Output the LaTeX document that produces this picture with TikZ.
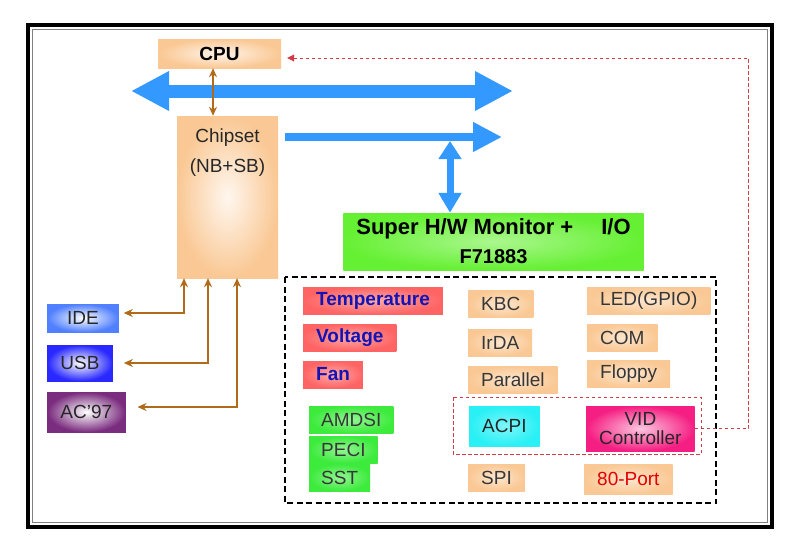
\documentclass[tikz,border=0pt]{standalone}
\usepackage{fontspec}
\setmainfont{Liberation Sans}
\usetikzlibrary{arrows.meta}
\definecolor{peach}{RGB}{250,200,148}
\definecolor{busblue}{RGB}{51,153,255}
\definecolor{wirebrown}{RGB}{176,106,26}
\definecolor{monigreen}{RGB}{102,240,51}
\definecolor{smgreen}{RGB}{60,235,60}
\definecolor{salmon}{RGB}{255,100,100}
\definecolor{hwtext}{RGB}{20,20,180}
\definecolor{idecol}{RGB}{80,128,255}
\definecolor{usbcol}{RGB}{40,40,255}
\definecolor{accol}{RGB}{122,44,126}
\definecolor{acpicol}{RGB}{40,240,245}
\definecolor{vidcol}{RGB}{245,30,130}
\definecolor{vidline}{RGB}{210,60,70}
\definecolor{labelgray}{RGB}{55,55,55}
\begin{document}
\begin{tikzpicture}[x=1pt, y=-1pt,
  every node/.style={font=\fontsize{19}{19}\selectfont},
  box/.style={rectangle, inner xsep=13pt, inner ysep=0pt, anchor=west, minimum height=27pt},
  iobox/.style={box, inner color=white!55!peach, outer color=peach, text=labelgray},
  hwbox/.style={box, inner color=white!45!salmon, outer color=salmon, text=hwtext, font=\fontsize{19}{19}\selectfont\bfseries},
  smbox/.style={box, inner xsep=12pt, inner color=white!45!smgreen, outer color=smgreen, text=labelgray},
  portbox/.style={box, draw=#1, line width=0.8pt, inner color=white, outer color=#1, text=black!85},
  bus/.style={busblue, line width=#1},
  wire/.style={wirebrown, line width=1.3pt, {Stealth[length=9pt,width=8pt]}-{Stealth[length=9pt,width=8pt]}},
  vidwire/.style={vidline, line width=1pt, dash pattern=on 3.5pt off 2.5pt}]
\useasboundingbox[fill=white] (0,0) rectangle (800,538);
\draw[line width=4pt] (28,25) rectangle (772,527);
\draw[gray, line width=1pt] (32.5,29.5) rectangle (767.5,522.5);
\node[box, anchor=center, minimum width=123pt, minimum height=29pt, inner color=white!80!peach, outer color=peach, font=\fontsize{19}{19}\selectfont\bfseries] (cpu) at (219.5,53.5) {CPU};
\node[box, anchor=center, minimum width=101pt, minimum height=162pt, inner color=white!85!peach, outer color=peach,
  label={[anchor=north, align=center, text=labelgray!70!black, font=\fontsize{19}{30}\selectfont, yshift=-9pt]north:Chipset\\(NB+SB)}] (chip) at (227.5,197) {};
\node[box, anchor=center, align=center, minimum width=297pt, minimum height=57pt, inner color=white!45!monigreen, outer color=monigreen, font=\fontsize{20}{29}\selectfont\bfseries] (sio) at (493.5,241.5) {{\fontsize{22}{29}\selectfont Super H/W Monitor +\hspace{28pt}I/O}\\F71883};
\coordinate (busW) at (131,91);
\coordinate (busE) at (513,91);
\draw[bus=13pt, {Triangle[length=38pt,width=37pt]}-{Triangle[length=38pt,width=37pt]}] (busW) -- (busE);
\coordinate (lpcW) at (285,137);
\coordinate (lpcE) at (502,137);
\draw[bus=8pt, -{Triangle[length=29pt,width=28pt]}] (lpcW) -- (lpcE);
\coordinate (lpcTap) at (450,141);
\draw[bus=7pt, {Triangle[length=18pt,width=22pt]}-{Triangle[length=20pt,width=22pt]}] (lpcTap) -- (lpcTap |- sio.north);
\draw[wire] ([xshift=-6.5pt]cpu.south) -- ([xshift=-6.5pt]cpu.south |- chip.north);
\node[portbox=idecol, minimum width=71pt, minimum height=28pt] (ide) at (47,318) {IDE};
\node[portbox=usbcol, minimum height=36pt] (usb) at (47,363) {USB};
\node[portbox=accol, minimum height=40pt] (ac) at (47,412) {AC'97};
\draw[wire] ([xshift=-43.5pt]chip.south) |- ([xshift=5pt, yshift=5pt]ide.east);
\draw[wire] ([xshift=-19.5pt]chip.south) |- ([xshift=11pt]usb.east);
\draw[wire] ([xshift=9.5pt]chip.south) |- ([xshift=12pt, yshift=5pt]ac.east);
\draw[line width=1.5pt, dash pattern=on 6pt off 3.5pt] (285,277) rectangle (716,503);
\node[hwbox] (temp) at (303,300.5) {Temperature};
\node[hwbox] (volt) at (303,337.5) {Voltage};
\node[hwbox] (fan) at (303,374.5) {Fan};
\node[smbox] (amdsi) at (309,419.5) {AMDSI};
\node[smbox] (peci) at (309,449.5) {PECI};
\node[smbox] (sst) at (309,477.5) {SST};
\node[iobox] (kbc) at (468,304) {KBC};
\node[iobox] (irda) at (468,342.5) {IrDA};
\node[iobox] (par) at (468,379.5) {Parallel};
\node[iobox] (spi) at (468,477.5) {SPI};
\node[iobox] (led) at (587,300.5) {LED(GPIO)};
\node[iobox] (com) at (587,337.5) {COM};
\node[iobox] (fdc) at (587,373.5) {Floppy};
\node[iobox, minimum height=30pt, text=red!90!black] (port80) at (584,479) {80-Port};
\draw[vidwire] (453,397) rectangle (701,454);
\node[box, minimum height=40pt, inner color=white!40!acpicol, outer color=acpicol, text=black!85] (acpi) at (469,426) {ACPI};
\node[box, align=center, minimum height=45pt, inner color=white!75!vidcol, outer color=vidcol, text=black!85] (vid) at (586,428.5) {VID\\Controller};
\draw[vidwire, -{Triangle[length=7pt,width=7pt]}] (vid.east) -- ++(54,0) |- ([xshift=6pt, yshift=-4.5pt]cpu.east);
\end{tikzpicture}
\end{document}
